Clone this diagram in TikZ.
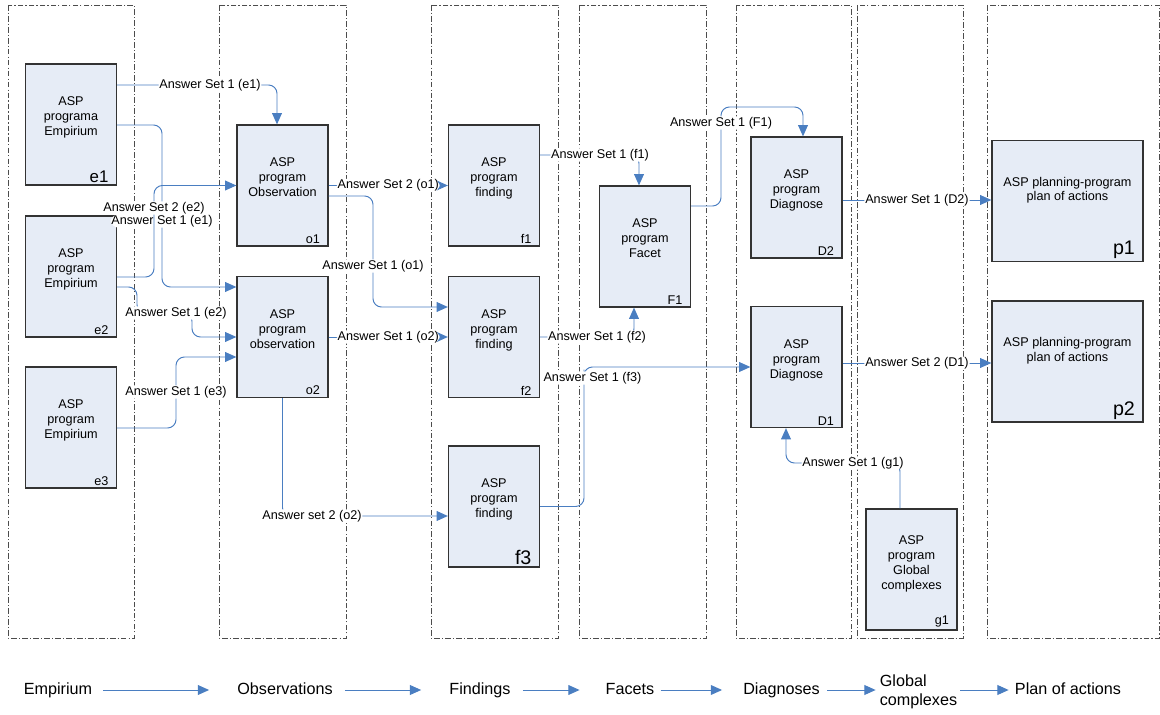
\documentclass[tikz,border=0pt]{standalone}
\usepackage{fontspec}
\setmainfont{Liberation Sans}
\usepackage{xcolor}
\usetikzlibrary{arrows.meta,positioning}
\definecolor{boxfill}{RGB}{230,236,246}
\definecolor{linkblue}{RGB}{74,126,193}

\begin{document}
\begin{tikzpicture}[x=0.025cm,y=-0.025cm]
\tikzset{lane/.style={draw=black!70, line width=0.6pt, dash pattern=on 4pt off 1.5pt on 0.8pt off 1.5pt}}
\tikzset{aspbox/.style={draw=black!80, line width=0.9pt, fill=boxfill, minimum width=2.275cm, minimum height=3.025cm, align=center, inner sep=0pt, font=\fontsize{9}{10.6}\selectfont, text height=16pt, text depth=0pt}}
\tikzset{twoline/.style={text height=0pt}}
\tikzset{fourline/.style={text height=28pt}}
\tikzset{wide/.style={minimum width=3.775cm}}
\tikzset{tag/.style={anchor=south east, inner xsep=6pt, inner ysep=2pt, font=\fontsize{9}{10}\selectfont}}
\tikzset{bigtag/.style={tag, font=\fontsize{14}{14}\selectfont}}
\tikzset{conn/.style={draw=linkblue, line width=0.7pt, rounded corners=6pt, -{Triangle[length=8pt,width=7pt]}}}
\tikzset{lbl/.style={fill=white, inner sep=0.6pt, font=\fontsize{9}{10}\selectfont}}
\tikzset{stage/.style={inner sep=0pt, text height=8.5pt, text depth=2.5pt, font=\fontsize{11.5}{13.5}\selectfont}}
\useasboundingbox (0,0) rectangle (1160,715);
\draw[lane] (8,5) rectangle (134,638);
\draw[lane] (219,5) rectangle (346,638);
\draw[lane] (431,5) rectangle (558,638);
\draw[lane] (579,5) rectangle (706,638);
\draw[lane] (736,5) rectangle (851,638);
\draw[lane] (857,5) rectangle (963,638);
\draw[lane] (987,5) rectangle (1159,638);
\node[aspbox, label={[tag, font=\fontsize{12}{12}\selectfont]south east:e1}] (e1) at (71,124.5) {ASP\\programa\\Empirium};
\node[aspbox, label={[tag]south east:e2}] (e2) at (71,276.5) {ASP\\program\\Empirium};
\node[aspbox, label={[tag]south east:e3}] (e3) at (71,427.5) {ASP\\program\\Empirium};
\node[aspbox, label={[tag]south east:o1}] (o1) at (282.5,185.5) {ASP\\program\\Observation};
\node[aspbox, label={[tag]south east:o2}] (o2) at (282.5,337) {ASP\\program\\observation};
\node[aspbox, label={[tag]south east:f1}] (f1) at (494,185.5) {ASP\\program\\finding};
\node[aspbox, label={[tag]south east:f2}] (f2) at (494,337) {ASP\\program\\finding};
\node[aspbox, label={[bigtag]south east:f3}] (f3) at (494,506.5) {ASP\\program\\finding};
\node[aspbox, label={[tag]south east:F1}] (F1) at (645,246.5) {ASP\\program\\Facet};
\node[aspbox, label={[tag]south east:D2}] (D2) at (796.5,197.5) {ASP\\program\\Diagnose};
\node[aspbox, label={[tag]south east:D1}] (D1) at (796.5,367) {ASP\\program\\Diagnose};
\node[aspbox, fourline, label={[tag]south east:g1}] (g1) at (911.5,569.5) {ASP\\program\\Global\\complexes};
\node[aspbox, wide, twoline, label={[bigtag]south east:p1}] (p1) at (1067.5,201) {ASP planning-program\\plan of actions};
\node[aspbox, wide, twoline, label={[bigtag]south east:p2}] (p2) at (1067.5,361.5) {ASP planning-program\\plan of actions};
\draw[conn] (e1.east |- 0,85) -- (210,85) node[lbl] {Answer Set 1 (e1)} -| (o1.north -| 277,0);
\draw[conn] (e1.east |- 0,125) -| (162,221) node[lbl] {Answer Set 1 (e1)} |- (o2.west |- 0,287);
\draw[conn] (e2.east |- 0,277) -| (154,208) node[lbl] {Answer Set 2 (e2)} |- (o1.west);
\draw[conn] (e2.east |- 0,287) -| (137,313) -- (176,313) node[lbl] {Answer Set 1 (e2)} -| (192,337) -- (o2.west |- 0,337);
\draw[conn] (e3.east |- 0,428) -| (176,392) node[lbl] {Answer Set 1 (e3)} |- (o2.west |- 0,357);
\draw[conn] (o1.east) -- node[lbl] {Answer Set 2 (o1)} (f1.west);
\draw[conn] (o1.east |- 0,196) -| (373,266) node[lbl] {Answer Set 1 (o1)} |- (f2.west |- 0,307);
\draw[conn] (o2.east) -- node[lbl] {Answer Set 1 (o2)} (f2.west);
\draw[conn] (o2.south) |- (312,516) node[lbl] {Answer set 2 (o2)} -- (f3.west |- 0,516);
\draw[conn] (f1.east |- 0,155) -- (600,155) node[lbl] {Answer Set 1 (f1)} -| (F1.north -| 639,0);
\draw[conn] (f2.east) -- (597,337) node[lbl] {Answer Set 1 (f2)} -| (F1.south -| 634,0);
\draw[conn] (f3.east) -| (584,378) node[lbl, xshift=6pt] {Answer Set 1 (f3)} |- (D1.west);
\draw[conn] (F1.east |- 0,206) -| (721,123) node[lbl] {Answer Set 1 (F1)} -- (721,107) -| (D2.north -| 803,0);
\draw[conn] (D2.east |- 0,200) -- node[lbl] {Answer Set 1 (D2)} (p1.west |- 0,200);
\draw[conn] (D1.east |- 0,363) -- node[lbl] {Answer Set 2 (D1)} (p2.west |- 0,363);
\draw[conn] (g1.north -| 900,0) |- (853,463) node[lbl] {Answer Set 1 (g1)} -| (D1.south -| 786,0);
\node[stage] (emp) at (58,690) {Empirium};
\node[stage] (obs) at (285,690) {Observations};
\node[stage] (find) at (480,690) {Findings};
\node[stage] (fac) at (630,690) {Facets};
\node[stage] (diag) at (781.5,690) {Diagnoses};
\node[stage, align=left, text height=21.7pt] (glob) at (918.5,691.5) {Global\\complexes};
\node[stage] (plan) at (1068,690) {Plan of actions};
\draw[conn, shorten <=7.8pt, shorten >=19.9pt] (emp.east) -- (emp.east -| obs.west);
\draw[conn, shorten <=8.5pt, shorten >=19.9pt] (obs.east) -- (obs.east -| find.west);
\draw[conn, shorten <=8.5pt, shorten >=18.4pt] (find.east) -- (find.east -| fac.west);
\draw[conn, shorten <=4.3pt, shorten >=14.9pt] (fac.east) -- (fac.east -| diag.west);
\draw[conn, shorten <=5pt, shorten >=2.8pt] (diag.east) -- (diag.east -| glob.west);
\draw[conn, shorten <=2.1pt, shorten >=4.3pt] (glob.east |- diag.east) -- (diag.east -| plan.west);
\end{tikzpicture}
\end{document}
